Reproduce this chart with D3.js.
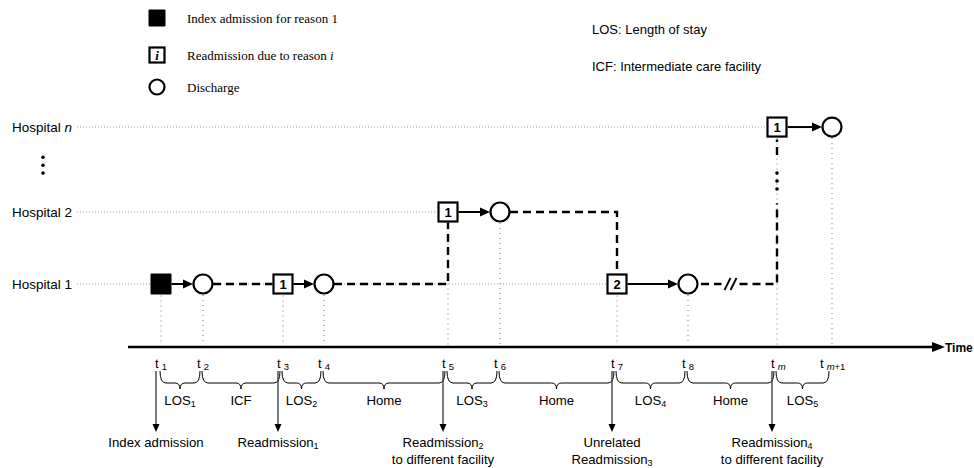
<!DOCTYPE html>
<html><head><meta charset="utf-8">
<script src="https://cdn.jsdelivr.net/npm/d3@7"></script>
<style>body{margin:0;background:#fff} svg{display:block}</style>
</head><body>
<script>
// ---------- data ----------
const hospitals = ["Hospital 1", "Hospital 2", "Hospital n"];
const hospitalLevels = [1, 2, 3.18];
const timeLabels = ["1", "2", "3", "4", "5", "6", "7", "8", "m", "m+1"];
const timeValues = [0, 4.2, 12.2, 16.3, 28.7, 33.9, 45.6, 52.7, 61.6, 67.1];
const eventHospital = [0, 0, 0, 0, 1, 1, 0, 0, 2, 2];
const eventType = ["index", "discharge", "readmit", "discharge", "readmit", "discharge", "readmit", "discharge", "readmit", "discharge"];
const eventReason = ["", "", "1", "", "1", "", "2", "", "1", ""];
const stays = [[0, 1], [2, 3], [4, 5], [6, 7], [8, 9]];
const transfers = [[1, 2], [3, 4], [5, 6], [7, 8]];
const intervalLabels = ["LOS", "ICF", "LOS", "Home", "LOS", "Home", "LOS", "Home", "LOS"];
const intervalSubs = ["1", "", "2", "", "3", "", "4", "", "5"];
const annotationEvents = [0, 2, 4, 6, 8];
const annotationLines = [
  [["Index admission", ""]],
  [["Readmission", "1"]],
  [["Readmission", "2"], ["to different facility", ""]],
  [["Unrelated", ""], ["Readmission", "3"]],
  [["Readmission", "4"], ["to different facility", ""]]
];
const legendSymbols = ["index", "readmit", "discharge"];
const legendTexts = ["Index admission for reason 1", "Readmission due to reason ", "Discharge"];
const notes = ["LOS: Length of stay", "ICF: Intermediate care facility"];

// ---------- setup ----------
const W = 974, H = 468;
const svg = d3.select("body").append("svg").attr("width", W).attr("height", H);
const x = d3.scaleLinear().domain([0, 67.1]).range([161, 832]);
const y = d3.scaleLinear().domain([1, 2]).range([284, 212]);
const axisY = 347;
const half = 10.5, R = 10;
const sans = "Liberation Sans, Arial, sans-serif";
const serif = "Liberation Serif, Times New Roman, serif";
const FS = 13.2;

const ex = i => x(timeValues[i]);
const ey = i => y(hospitalLevels[eventHospital[i]]);

// ---------- hospital labels and dotted guide lines ----------
hospitals.forEach((h, k) => {
  const yy = y(hospitalLevels[k]);
  const t = svg.append("text").attr("x", 12).attr("y", yy + 4.8)
    .attr("font-family", sans).attr("font-size", 13.5).attr("fill", "#000");
  const parts = h.split(" ");
  t.append("tspan").text(parts[0] + " ");
  t.append("tspan").text(parts[1]).attr("font-style", parts[1] === "n" ? "italic" : "normal");
  const end = 12 + t.node().getComputedTextLength() + 5;
  let last = -1;
  eventHospital.forEach((hh, i) => { if (hh === k && eventType[i] !== "discharge") last = i; });
  svg.append("line").attr("x1", end).attr("x2", ex(last) - half).attr("y1", yy).attr("y2", yy)
    .attr("stroke", "#999").attr("stroke-width", 1).attr("stroke-dasharray", "1,2");
});
// vertical ellipsis between hospital 2 and n
[2.54, 2.65, 2.76].forEach(l => {
  svg.append("circle").attr("cx", 43).attr("cy", y(l)).attr("r", 1.8).attr("fill", "#000");
});

// ---------- vertical gray dotted lines down to axis ----------
timeValues.forEach((v, i) => {
  const top = ey(i) + (eventType[i] === "discharge" ? R : half) + 1;
  svg.append("line").attr("x1", ex(i)).attr("x2", ex(i)).attr("y1", top).attr("y2", axisY - 2)
    .attr("stroke", "#777").attr("stroke-width", 1).attr("stroke-dasharray", "1,4");
});

// ---------- dashed transfers ----------
const dashed = (d) => svg.append("path").attr("d", d).attr("fill", "none")
  .attr("stroke", "#000").attr("stroke-width", 2.4).attr("stroke-dasharray", "8,5");
transfers.forEach(([a, b], k) => {
  const x0 = ex(a) + R, y0 = ey(a), x1 = ex(b), y1 = ey(b);
  if (y0 === y1) {
    dashed(`M${x0},${y0}H${x1 - half}`);
  } else if (k < transfers.length - 1) {
    const yEnd = y1 < y0 ? y1 + half : y1 - half;
    dashed(`M${x0},${y0}H${x1}V${yEnd}`);
  } else {
    const bx = (x0 + x1) / 2 - 7;
    dashed(`M${x0 + 3},${y0}H${bx - 9}`);
    dashed(`M${bx + 9},${y0}H${x1}V${y(2.12)}`);
    dashed(`M${x1},${y(2.79)}V${y1 + half + 2}`);
    [-3, 3].forEach(o => {
      svg.append("line").attr("x1", bx + o - 3).attr("y1", y0 + 6).attr("x2", bx + o + 3).attr("y2", y0 - 6)
        .attr("stroke", "#000").attr("stroke-width", 1.8);
    });
    [2.32, 2.43, 2.54].forEach(l => {
      svg.append("circle").attr("cx", x1).attr("cy", y(l)).attr("r", 1.8).attr("fill", "#000");
    });
  }
});

// ---------- solid stay arrows ----------
stays.forEach(([a, b]) => {
  const x0 = ex(a) + half, x1 = ex(b) - R, yy = ey(a);
  svg.append("line").attr("x1", x0).attr("x2", x1 - 8).attr("y1", yy).attr("y2", yy)
    .attr("stroke", "#000").attr("stroke-width", 2);
  svg.append("path").attr("d", `M${x1},${yy}L${x1 - 10},${yy - 4.5}L${x1 - 10},${yy + 4.5}Z`).attr("fill", "#000");
});

// ---------- markers ----------
function marker(g, type, cx, cy, label, size) {
  const h = size / 2;
  if (type === "index") {
    g.append("rect").attr("x", cx - h).attr("y", cy - h).attr("width", size).attr("height", size)
      .attr("fill", "#000").attr("rx", 1);
  } else if (type === "readmit") {
    g.append("rect").attr("x", cx - h + 1).attr("y", cy - h + 1).attr("width", size - 2).attr("height", size - 2)
      .attr("fill", "#fff").attr("stroke", "#000").attr("stroke-width", 2.2);
    g.append("text").attr("x", cx).attr("y", cy + 4.5).attr("text-anchor", "middle")
      .attr("font-family", label === "i" ? serif : sans).attr("font-weight", "bold")
      .attr("font-style", label === "i" ? "italic" : "normal")
      .attr("font-size", 13).text(label);
  } else {
    g.append("circle").attr("cx", cx).attr("cy", cy).attr("r", h - 1)
      .attr("fill", "#fff").attr("stroke", "#000").attr("stroke-width", 2.2);
  }
}
timeValues.forEach((v, i) => marker(svg, eventType[i], ex(i), ey(i), eventReason[i], 21));

// ---------- time axis ----------
svg.append("line").attr("x1", 128).attr("x2", 934).attr("y1", axisY).attr("y2", axisY)
  .attr("stroke", "#000").attr("stroke-width", 2.6);
svg.append("path").attr("d", `M945,${axisY}L932,${axisY - 5}L932,${axisY + 5}Z`).attr("fill", "#000");
svg.append("text").attr("x", 945).attr("y", axisY + 4.5).attr("font-family", sans)
  .attr("font-weight", "bold").attr("font-size", 12).text("Time");

// tick labels
timeLabels.forEach((lab, i) => {
  const t = svg.append("text").attr("x", ex(i) - (lab.length > 2 ? 12 : 6)).attr("y", 368)
    .attr("font-family", sans).attr("font-size", 13);
  t.append("tspan").text("t");
  const s = t.append("tspan").attr("dx", 3).attr("dy", 2).attr("font-size", 9.5);
  if (lab.startsWith("m")) {
    s.append("tspan").attr("font-style", "italic").text("m");
    if (lab.length > 1) s.append("tspan").text(lab.slice(1));
  } else s.text(lab);
});

// braces
for (let i = 0; i < timeValues.length - 1; i++) {
  const a = ex(i) - 1, b = ex(i + 1) - 3, m = (a + b) / 2, t0 = 371, hy = 383, tip = 389;
  svg.append("path").attr("fill", "none").attr("stroke", "#000").attr("stroke-width", 1)
    .attr("d", `M${a},${t0}Q${a},${hy} ${a + 6},${hy}L${m - 5},${hy}Q${m},${hy} ${m},${tip}Q${m},${hy} ${m + 5},${hy}L${b - 6},${hy}Q${b},${hy} ${b},${t0}`);
  const t = svg.append("text").attr("x", m).attr("y", 405).attr("text-anchor", "middle")
    .attr("font-family", sans).attr("font-size", FS);
  t.append("tspan").text(intervalLabels[i]);
  if (intervalSubs[i]) t.append("tspan").attr("font-size", 9).attr("dy", 2).text(intervalSubs[i]);
}

// annotation arrows
annotationEvents.forEach((e, k) => {
  const ax = ex(e) - 5;
  svg.append("line").attr("x1", ax).attr("x2", ax).attr("y1", 371).attr("y2", 425)
    .attr("stroke", "#333").attr("stroke-width", 1.3);
  svg.append("path").attr("d", `M${ax},${432}L${ax - 3.5},${424}L${ax + 3.5},${424}Z`).attr("fill", "#000");
  annotationLines[k].forEach((ln, j) => {
    const t = svg.append("text").attr("x", ax).attr("y", 447 + j * 17).attr("text-anchor", "middle")
      .attr("font-family", sans).attr("font-size", FS);
    t.append("tspan").text(ln[0]);
    if (ln[1]) t.append("tspan").attr("font-size", 9).attr("dy", 2).text(ln[1]);
  });
});

// ---------- legend ----------
legendSymbols.forEach((s, k) => {
  const cy = [18, 55, 87][k];
  marker(svg, s, 157, cy, "i", 17);
  const t = svg.append("text").attr("x", 187).attr("y", cy + 4.5).attr("font-family", serif).attr("font-size", 13);
  t.append("tspan").text(legendTexts[k]);
  if (k === 1) t.append("tspan").attr("font-style", "italic").text("i");
});
notes.forEach((n, k) => {
  svg.append("text").attr("x", 592).attr("y", 34 + k * 37).attr("font-family", sans).attr("font-size", 13).text(n);
});
</script>
</body></html>
